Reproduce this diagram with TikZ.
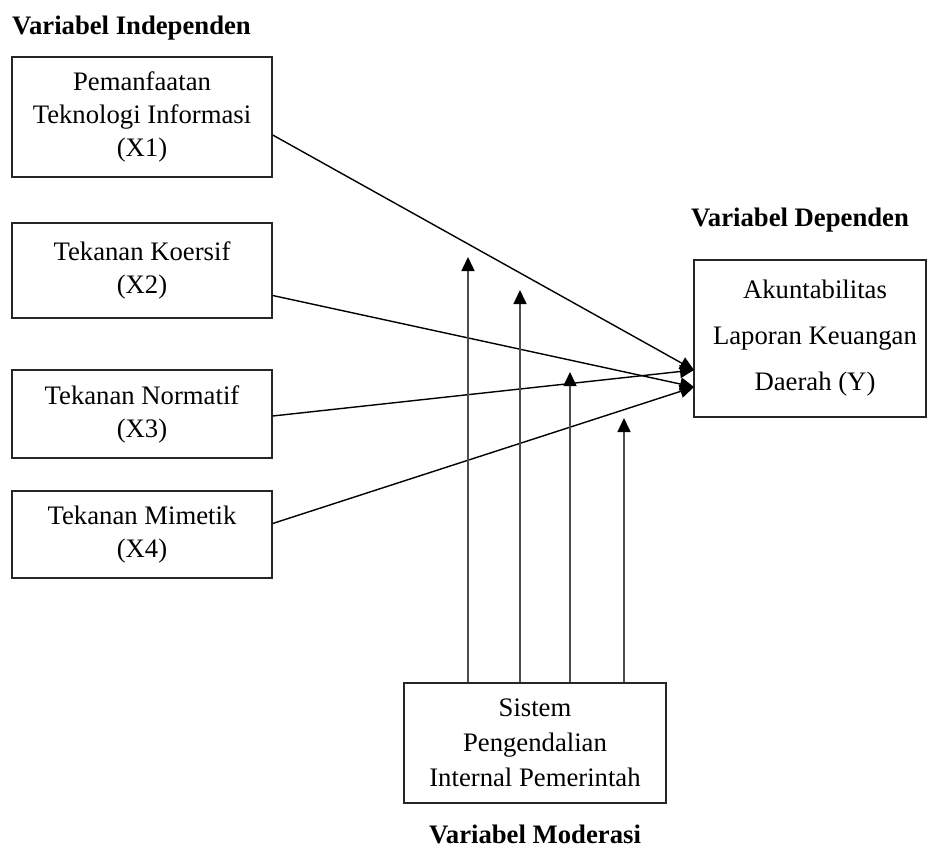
\documentclass[tikz,border=0pt]{standalone}
\usepackage{fontspec}
\setmainfont{Liberation Serif}
\usetikzlibrary{arrows.meta}
\begin{document}
\begin{tikzpicture}[x=1pt,y=-1pt,
  varbox/.style={draw=black!85,line width=1.4pt,rectangle,inner sep=0pt,align=center,
    font=\fontsize{26.7}{33}\selectfont},
  heading/.style={font=\fontsize{26.7}{33}\selectfont\bfseries,inner sep=0pt},
  link/.style={line width=1.4pt,-{Triangle[length=14pt,width=13pt]}},
  modlink/.style={line width=1.5pt,draw=black!70,-{Triangle[length=14pt,width=13pt,color=black,fill=black]}}]
\useasboundingbox (0,0) rectangle (929,848);
\node[heading,anchor=west] (hI) at (12,28) {Variabel Independen};
\node[heading] (hD) at (800,220) {Variabel Dependen};
\node[heading,anchor=base] (hM) at (535,843) {Variabel Moderasi};

\node[varbox,minimum width=260pt,minimum height=120pt] (X1) at (142,117)
  {Pemanfaatan\\Teknologi Informasi\\(X1)};
\node[varbox,minimum width=260pt,minimum height=95pt] (X2) at (142,270.5)
  {Tekanan Koersif\\(X2)};
\node[varbox,minimum width=260pt,minimum height=88pt] (X3) at (142,414)
  {Tekanan Normatif\\(X3)};
\node[varbox,minimum width=260pt,minimum height=87pt] (X4) at (142,534.5)
  {Tekanan Mimetik\\(X4)};
\node[varbox,minimum width=232pt,minimum height=157pt,
  font=\fontsize{26.7}{46}\selectfont] (Y) at (810,338.5)
  {\hspace*{10pt}Akuntabilitas\\\hspace*{10pt}Laporan Keuangan\\\hspace*{10pt}Daerah (Y)};
\node[varbox,minimum width=262pt,minimum height=120pt,
  font=\fontsize{26.7}{35}\selectfont] (M) at (535,743)
  {Sistem\\Pengendalian\\Internal Pemerintah};

\coordinate (ya) at (694,370);
\coordinate (yb) at (694,387);
\draw[link] ([yshift=-18pt]X1.east) -- (ya);
\draw[link] ([yshift=-25pt]X2.east) -- (yb);
\draw[link] ([yshift=-2pt]X3.east) -- (ya);
\draw[link] ([yshift=11pt]X4.east) -- (yb);

\coordinate (m1) at (468,257);
\coordinate (m2) at (520,290);
\coordinate (m3) at (570,372);
\coordinate (m4) at (624,418);
\draw[modlink] (M.north -| m1) -- (m1);
\draw[modlink] (M.north -| m2) -- (m2);
\draw[modlink] (M.north -| m3) -- (m3);
\draw[modlink] (M.north -| m4) -- (m4);
\end{tikzpicture}
\end{document}
